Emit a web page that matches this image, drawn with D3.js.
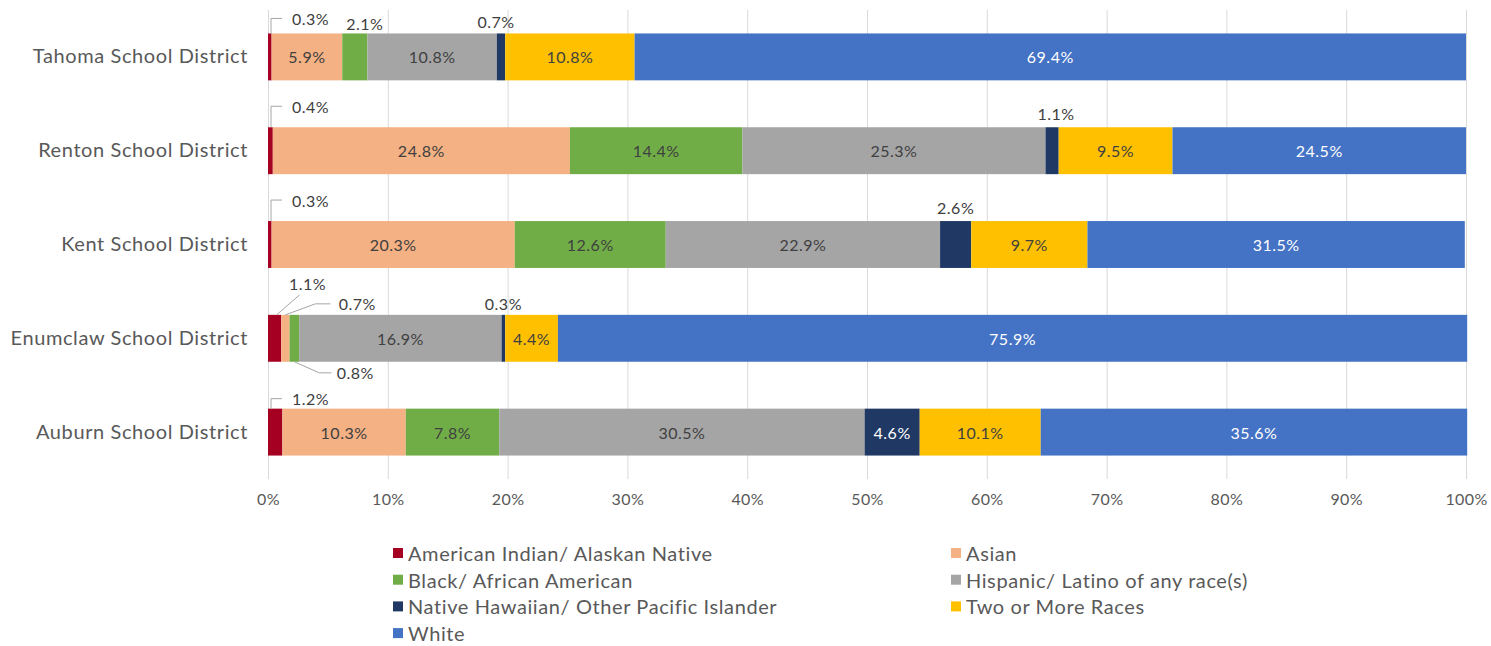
<!DOCTYPE html>
<html>
<head>
<meta charset="utf-8">
<script src="https://cdn.jsdelivr.net/npm/d3@7"></script>
<style>
  html, body { margin: 0; padding: 0; background: #fff; }
  svg { display: block; font-family: Lato, "Open Sans", sans-serif; }
</style>
</head>
<body>
<svg id="chart" width="1491" height="646"></svg>
<script>
// ---- data ----
const districts = ["Tahoma School District", "Renton School District", "Kent School District", "Enumclaw School District", "Auburn School District"];
const seriesNames = ["American Indian/ Alaskan Native", "Asian", "Black/ African American", "Hispanic/ Latino of any race(s)", "Native Hawaiian/ Other Pacific Islander", "Two or More Races", "White"];
const aian     = [0.3, 0.4, 0.3, 1.1, 1.2];
const asian    = [5.9, 24.8, 20.3, 0.7, 10.3];
const black    = [2.1, 14.4, 12.6, 0.8, 7.8];
const hispanic = [10.8, 25.3, 22.9, 16.9, 30.5];
const nhpi     = [0.7, 1.1, 2.6, 0.3, 4.6];
const twoMore  = [10.8, 9.5, 9.7, 4.4, 10.1];
const white    = [69.4, 24.5, 31.5, 75.9, 35.6];
const xTicks   = [0, 10, 20, 30, 40, 50, 60, 70, 80, 90, 100];

// ---- style ----
const colors = ["#A50021", "#F4B183", "#70AD47", "#A5A5A5", "#203864", "#FFC000", "#4472C4"];
const labelColors = ["#404040", "#404040", "#404040", "#404040", "#FFFFFF", "#404040", "#FFFFFF"];

const seriesValues = [aian, asian, black, hispanic, nhpi, twoMore, white];
const rows = districts.map((d, i) => {
  const r = { district: d };
  seriesNames.forEach((s, k) => r[s] = seriesValues[k][i]);
  return r;
});

const svg = d3.select("#chart");
const plotL = 268, plotR = 1466, plotT = 10, plotB = 479;

const x = d3.scaleLinear().domain([0, 100]).range([plotL, plotR]);
const y = d3.scaleBand().domain(districts).range([plotT, plotB]).paddingInner(0.5).paddingOuter(0.25);

// gridlines
svg.append("g").selectAll("line").data(xTicks).join("line")
  .attr("x1", d => x(d) + 0.5).attr("x2", d => x(d) + 0.5)
  .attr("y1", plotT).attr("y2", plotB)
  .attr("stroke", "#D9D9D9").attr("stroke-width", 1);

// x axis tick labels
const xAxis = d3.axisBottom(x).tickValues(xTicks).tickFormat(d => d + "%").tickSize(0).tickPadding(0);
const gx = svg.append("g").attr("transform", `translate(0, ${plotB + 15})`).call(xAxis);
gx.select(".domain").remove();
gx.selectAll("text").attr("font-size", 16).attr("letter-spacing", 0.4)
  .attr("fill", "#595959").attr("font-family", "Lato, sans-serif");

// y axis labels
const yAxis = d3.axisLeft(y).tickSize(0).tickPadding(20);
const gy = svg.append("g").attr("transform", `translate(${plotL}, 0)`).call(yAxis);
gy.select(".domain").remove();
gy.selectAll("text").attr("font-size", 20).attr("letter-spacing", 0.6)
  .attr("fill", "#595959").attr("font-family", "Lato, sans-serif");

// stacked bars
const stack = d3.stack().keys(seriesNames);
const layers = stack(rows);

const gBars = svg.append("g");
layers.forEach((layer, k) => {
  gBars.append("g").attr("fill", colors[k])
    .selectAll("rect").data(layer).join("rect")
    .attr("x", d => x(d[0]))
    .attr("y", d => y(d.data.district))
    .attr("width", d => Math.max(0, x(d[1]) - x(d[0])))
    .attr("height", y.bandwidth());
});

// label placement (style config): which labels sit outside the bar
// key: districtIndex-seriesIndex
const outside = {
  "0-0": { type: "elbow", rise: 15 },
  "0-2": { type: "above", dx: 10, dy: -10 },
  "0-4": { type: "above", dx: -5, dy: -12 },
  "1-0": { type: "elbow", rise: 21 },
  "1-4": { type: "above", dx: 4, dy: -14 },
  "2-0": { type: "elbow", rise: 21 },
  "2-4": { type: "above", dx: 0, dy: -14 },
  "3-0": { type: "diag", ty: -31, lx: 25, ly: -20 },
  "3-1": { type: "diagH", ty: -11, lx: 30, hx: 45, tdx: 72 },
  "3-2": { type: "diagDown", ty: 58, lx: 25, hx: 37, tdx: 61 },
  "3-4": { type: "above", dx: 0, dy: -11 },
  "4-0": { type: "elbow", rise: 10 }
};

const gLines = svg.append("g");
const gLabels = svg.append("g").attr("font-family", "Lato, sans-serif").attr("font-size", 16).attr("letter-spacing", 0.5);
const fmt = v => v.toFixed(1) + "%";
const lineCol = "#A6A6A6";

layers.forEach((layer, k) => {
  layer.forEach((d, i) => {
    const key = i + "-" + k;
    const x0 = x(d[0]), x1 = x(d[1]);
    const yt = y(d.data.district);
    const yc = yt + y.bandwidth() / 2;
    const txt = fmt(seriesValues[k][i]);
    const p = outside[key];
    if (!p) {
      gLabels.append("text")
        .attr("x", (x0 + x1) / 2).attr("y", yc)
        .attr("text-anchor", "middle").attr("dominant-baseline", "central")
        .attr("fill", labelColors[k]).text(txt);
      return;
    }
    const xm = (x0 + x1) / 2;
    if (p.type === "elbow") {
      const lx = x0 + 3;
      gLines.append("path")
        .attr("d", `M${lx},${yt} L${lx},${yt - p.rise} L${lx + 11},${yt - p.rise}`)
        .attr("fill", "none").attr("stroke", lineCol).attr("stroke-width", 1);
      gLabels.append("text").attr("x", lx + 21).attr("y", yt - p.rise)
        .attr("dominant-baseline", "central").attr("fill", "#404040").text(txt);
    } else if (p.type === "above") {
      gLabels.append("text").attr("x", xm + p.dx).attr("y", yt + p.dy)
        .attr("text-anchor", "middle").attr("dominant-baseline", "central")
        .attr("fill", "#404040").text(txt);
    } else if (p.type === "diag") {
      gLines.append("path")
        .attr("d", `M${xm + 2},${yt} L${xm + p.lx},${yt + p.ly}`)
        .attr("fill", "none").attr("stroke", lineCol).attr("stroke-width", 1);
      gLabels.append("text").attr("x", xm + p.lx + 8).attr("y", yt + p.ty)
        .attr("text-anchor", "middle").attr("dominant-baseline", "central")
        .attr("fill", "#404040").text(txt);
    } else if (p.type === "diagH") {
      gLines.append("path")
        .attr("d", `M${xm},${yt} L${xm + p.lx},${yt + p.ty} L${xm + p.hx},${yt + p.ty}`)
        .attr("fill", "none").attr("stroke", lineCol).attr("stroke-width", 1);
      gLabels.append("text").attr("x", xm + p.tdx).attr("y", yt + p.ty)
        .attr("text-anchor", "middle").attr("dominant-baseline", "central")
        .attr("fill", "#404040").text(txt);
    } else if (p.type === "diagDown") {
      const yb = yt + y.bandwidth();
      gLines.append("path")
        .attr("d", `M${xm},${yb} L${xm + p.lx},${yt + p.ty} L${xm + p.hx},${yt + p.ty}`)
        .attr("fill", "none").attr("stroke", lineCol).attr("stroke-width", 1);
      gLabels.append("text").attr("x", xm + p.tdx).attr("y", yt + p.ty)
        .attr("text-anchor", "middle").attr("dominant-baseline", "central")
        .attr("fill", "#404040").text(txt);
    }
  });
});

// legend
const legend = svg.append("g").attr("font-family", "Lato, sans-serif").attr("font-size", 20).attr("letter-spacing", 0.6);
const colX = [393, 951];
const rowY0 = 553, rowStep = 26.7;
seriesNames.forEach((s, k) => {
  const cx = colX[k % 2];
  const cy = rowY0 + Math.floor(k / 2) * rowStep;
  legend.append("rect").attr("x", cx).attr("y", cy - 5).attr("width", 10).attr("height", 10).attr("fill", colors[k]);
  legend.append("text").attr("x", cx + 15).attr("y", cy)
    .attr("dominant-baseline", "central").attr("fill", "#595959").text(s);
});
</script>
</body>
</html>
